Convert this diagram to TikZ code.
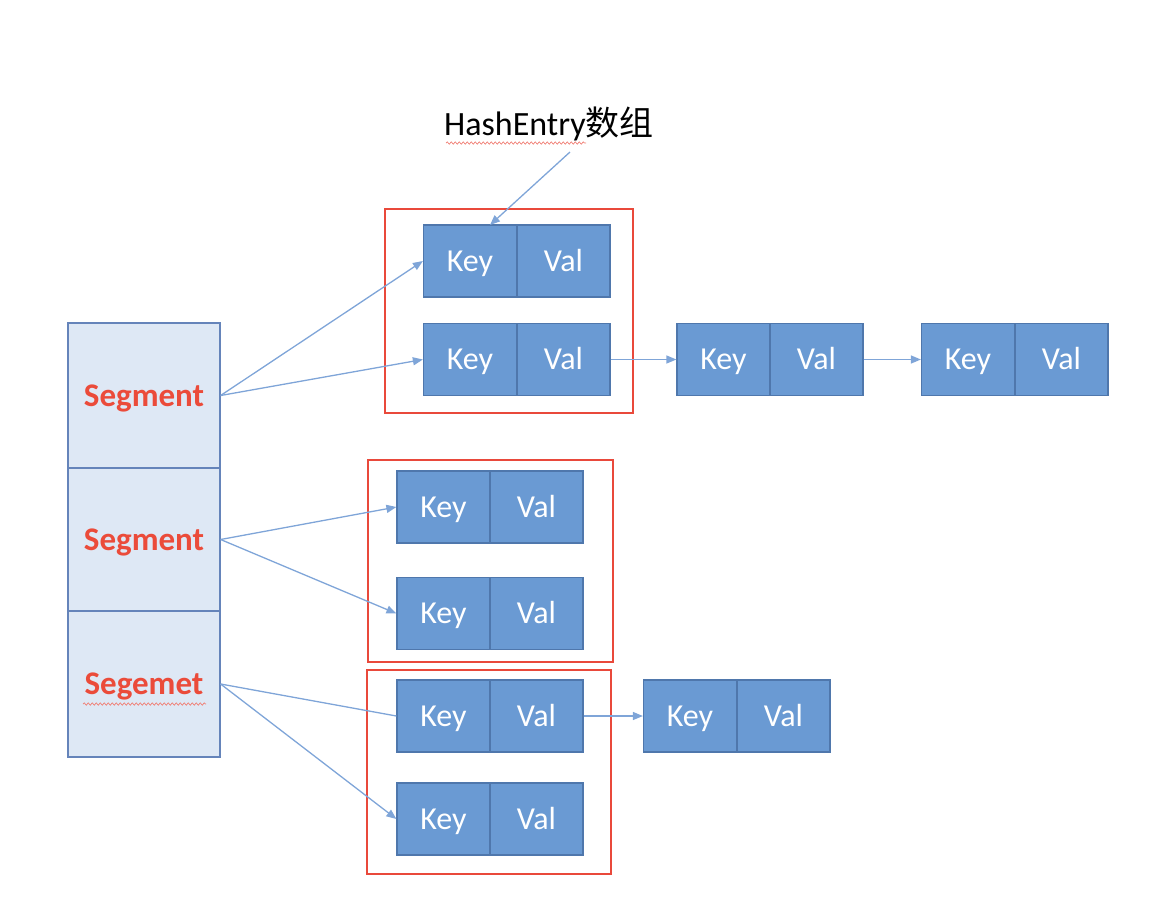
\documentclass[tikz,border=0pt]{standalone}
\usepackage{fontspec}
\setmainfont{Carlito}
\newfontfamily\cjk{Noto Sans CJK SC}
\usetikzlibrary{arrows.meta,decorations.pathmorphing}
\definecolor{cellfill}{HTML}{6A9AD3}
\definecolor{celldraw}{HTML}{4F77AC}
\definecolor{segfill}{HTML}{DEE8F5}
\definecolor{segdraw}{HTML}{6584BA}
\definecolor{segtext}{HTML}{EB4B3A}
\definecolor{redbox}{HTML}{E9493B}
\definecolor{arrowc}{HTML}{7FA5D8}
\begin{document}
\begin{tikzpicture}[x=1pt,y=-1pt,
  cell/.style={draw=celldraw,line width=1.2pt,fill=cellfill,text=white,minimum width=93pt,minimum height=72pt,inner sep=0pt,text height=20.6pt,text depth=0pt,font=\fontsize{32}{33}\selectfont},
  seg/.style={draw=segdraw,line width=1.2pt,fill=segfill,text=segtext,minimum width=152pt,inner sep=0pt,text height=21pt,text depth=0pt,font=\fontsize{33}{34}\selectfont\bfseries},
  group/.style={draw=redbox,line width=1.3pt},
  link/.style={draw=arrowc,line width=1.3pt,-{Triangle[length=10pt,width=8pt]}},
  plain/.style={draw=arrowc,line width=1.3pt},
  squig/.style={draw=redbox!70,line width=0.7pt,decorate,decoration={snake,amplitude=1.2pt,segment length=4pt}}
]
\useasboundingbox (0,0) rectangle (1168,922);
% segments
\node[seg,minimum height=145pt] (s1) at (144,395.5) {Segment};
\node[seg,minimum height=143pt] (s2) at (144,539.5) {Segment};
\node[seg,minimum height=146pt] (s3) at (144,684) {Segemet};
\draw[squig] (83,704) -- (206,704);
% groups
\draw[group] (385,209) rectangle (633,413);
\draw[group] (368,460) rectangle (613,662);
\draw[group] (367,670) rectangle (611,874);
% group 1
\node[cell] (k11) at (470,261) {Key};
\node[cell] (v11) at (563.5,261) {Val};
\node[cell] (k12) at (470,359.5) {Key};
\node[cell] (v12) at (563.5,359.5) {Val};
\node[cell] (k13) at (723.5,359.5) {Key};
\node[cell] (v13) at (816.5,359.5) {Val};
\node[cell] (k14) at (968,359.5) {Key};
\node[cell] (v14) at (1061.5,359.5) {Val};
% group 2
\node[cell] (k21) at (443.5,507) {Key};
\node[cell] (v21) at (536.5,507) {Val};
\node[cell] (k22) at (443.5,613.5) {Key};
\node[cell] (v22) at (536.5,613.5) {Val};
% group 3
\node[cell] (k31) at (443.5,716) {Key};
\node[cell] (v31) at (536.5,716) {Val};
\node[cell] (k32) at (443.5,819) {Key};
\node[cell] (v32) at (536.5,819) {Val};
\node[cell] (k33) at (690,716) {Key};
\node[cell] (v33) at (783.5,716) {Val};
% label
\node[font=\fontsize{34}{35}\selectfont,anchor=center] (lab) at (549,124) {HashEntry{\cjk 数组}};
\draw[squig] (446,143) -- (586,143);
\coordinate (labfoot) at (570,152);
\coordinate (k11top) at (490,225);
% connectors
\draw[link] (labfoot) -- (k11top);
\draw[link] (s1.east) -- (k11.west);
\draw[link] (s1.east) -- (k12.west);
\draw[link] (v12.east) -- (k13.west);
\draw[link] (v13.east) -- (k14.west);
\draw[link] (s2.east) -- (k21.west);
\draw[link] (s2.east) -- (k22.west);
\draw[plain] (s3.east) -- (k31.west);
\draw[link] (s3.east) -- (k32.west);
\draw[link] (v31.east) -- (k33.west);
\end{tikzpicture}
\end{document}
